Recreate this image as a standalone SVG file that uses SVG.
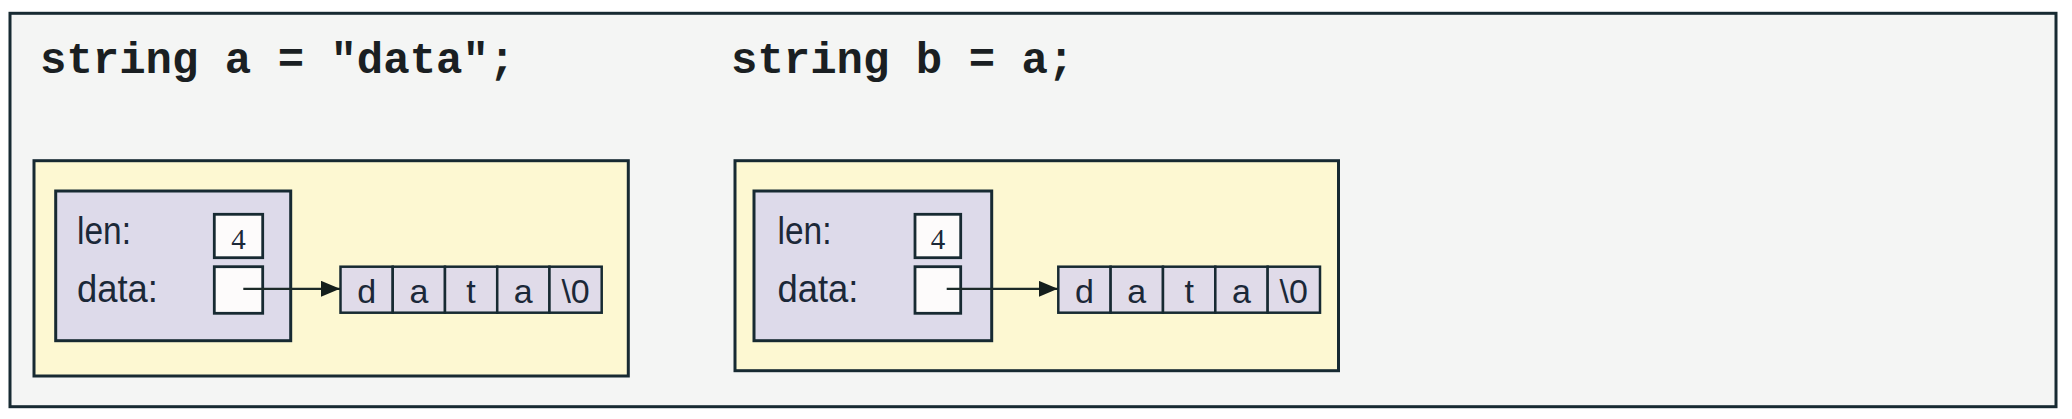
<svg xmlns="http://www.w3.org/2000/svg" width="2072" height="419" viewBox="0 0 2072 419">
<defs>
<style>
.frame{fill:#f4f5f4;stroke:#172a32;stroke-width:3}
.panel{fill:#fdf8d2;stroke:#172a32;stroke-width:3}
.struct{fill:#dddaea;stroke:#172a32;stroke-width:3}
.box{fill:#fdfbfb;stroke:#172a32;stroke-width:2.8}
.cell{fill:#e0dbe9;stroke:#172a32;stroke-width:2.5}
.title{font-family:"Liberation Mono","Courier New",monospace;font-weight:bold;font-size:44px;fill:#1a1f22}
.lbl{font-family:"Liberation Sans",Arial,sans-serif;font-size:38px;fill:#1b2838}
.num{font-family:"Liberation Serif","Times New Roman",serif;font-size:29px;fill:#1b2838;text-anchor:middle}
.ch{font-family:"Liberation Sans",Arial,sans-serif;font-size:34px;fill:#1b2838;text-anchor:middle}
.conn{stroke:#1c2a28;stroke-width:2.2;fill:none}
</style>
<marker id="arrow" markerUnits="userSpaceOnUse" markerWidth="19" markerHeight="16" refX="19" refY="8" orient="auto">
<path d="M0,0 L19,8 L0,16 z" fill="#141e1c"/>
</marker>
</defs>
<rect x="0" y="0" width="2072" height="419" fill="#ffffff"/>
<g id="frame">
<rect class="frame" x="10" y="13.3" width="2046" height="393.4"/>
</g>
<g id="title-a">
<text class="title" x="40" y="73">string a = "data";</text>
</g>
<g id="title-b">
<text class="title" x="731" y="73">string b = a;</text>
</g>
<g id="panel-a">
<rect class="panel" x="34" y="160.7" width="594.3" height="215.3"/>
</g>
<g id="struct-a">
<rect class="struct" x="55.7" y="191" width="235" height="149.7"/>
<text class="lbl" x="77" y="244" textLength="54" lengthAdjust="spacingAndGlyphs">len:</text>
<text class="lbl" x="77" y="301.7" textLength="81" lengthAdjust="spacingAndGlyphs">data:</text>
</g>
<g id="len-a">
<rect class="box" x="214.3" y="214.3" width="48.4" height="43.4"/>
<text class="num" x="238.5" y="249.3">4</text>
</g>
<g id="ptr-a">
<rect class="box" x="214.3" y="266.7" width="48.4" height="46.6"/>
</g>
<g id="array-a">
<rect class="cell" x="340.5" y="266.7" width="52.24" height="46"/>
<rect class="cell" x="392.74" y="266.7" width="52.24" height="46"/>
<rect class="cell" x="444.98" y="266.7" width="52.24" height="46"/>
<rect class="cell" x="497.22" y="266.7" width="52.24" height="46"/>
<rect class="cell" x="549.46" y="266.7" width="52.24" height="46"/>
<text class="ch" x="366.6" y="303.3">d</text>
<text class="ch" x="418.9" y="303.3">a</text>
<text class="ch" x="471.1" y="303.3">t</text>
<text class="ch" x="523.3" y="303.3">a</text>
<text class="ch" x="575.6" y="303.3">\0</text>
</g>
<g id="panel-b">
<rect class="panel" x="735" y="160.7" width="603.5" height="210"/>
</g>
<g id="struct-b">
<rect class="struct" x="754" y="191" width="237.7" height="149.7"/>
<text class="lbl" x="777.5" y="244" textLength="54" lengthAdjust="spacingAndGlyphs">len:</text>
<text class="lbl" x="777.5" y="301.7" textLength="81" lengthAdjust="spacingAndGlyphs">data:</text>
</g>
<g id="len-b">
<rect class="box" x="915" y="214.3" width="45.7" height="43.4"/>
<text class="num" x="937.9" y="249.3">4</text>
</g>
<g id="ptr-b">
<rect class="box" x="915" y="266.7" width="45.7" height="46.6"/>
</g>
<g id="array-b">
<rect class="cell" x="1058.3" y="266.7" width="52.34" height="46"/>
<rect class="cell" x="1110.64" y="266.7" width="52.34" height="46"/>
<rect class="cell" x="1162.98" y="266.7" width="52.34" height="46"/>
<rect class="cell" x="1215.32" y="266.7" width="52.34" height="46"/>
<rect class="cell" x="1267.66" y="266.7" width="52.34" height="46"/>
<text class="ch" x="1084.5" y="303.3">d</text>
<text class="ch" x="1136.8" y="303.3">a</text>
<text class="ch" x="1189.2" y="303.3">t</text>
<text class="ch" x="1241.5" y="303.3">a</text>
<text class="ch" x="1293.8" y="303.3">\0</text>
</g>
<g id="connectors">
<line class="conn" x1="243.3" y1="288.8" x2="340" y2="288.8" marker-end="url(#arrow)"/>
<line class="conn" x1="946.7" y1="288.8" x2="1057.8" y2="288.8" marker-end="url(#arrow)"/>
</g>
</svg>
